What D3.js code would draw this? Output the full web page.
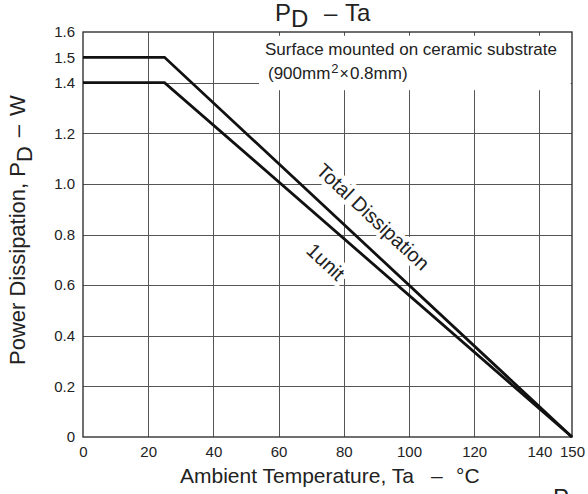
<!DOCTYPE html>
<html><head><meta charset="utf-8">
<script src="https://cdn.jsdelivr.net/npm/d3@7"></script>
<style>
body{margin:0;background:#fff}
text{font-family:"Liberation Sans",Arial,Helvetica,sans-serif;fill:#222}
</style>
</head><body>
<svg id="c" width="588" height="494"></svg>
<script>
// ---- data ----
const xTicks = [0, 20, 40, 60, 80, 100, 120, 140, 150];
const yTicks = [0, 0.2, 0.4, 0.6, 0.8, 1.0, 1.2, 1.4, 1.5, 1.6];
const xGrid = [20, 40, 60, 80, 100, 120, 140];
const yGrid = [0.2, 0.4, 0.6, 0.8, 1.0, 1.2, 1.4];
const temperature = [0, 25, 150];
const totalPD = [1.5, 1.5, 0];
const unitPD = [1.4, 1.4, 0];
const seriesNames = ["Total Dissipation", "1unit"];

// ---- layout ----
const svg = d3.select("#c");
const L = 83, R = 572, T = 32, B = 437;
const x = d3.scaleLinear().domain([0, 150]).range([L, R]);
const y = d3.scaleLinear().domain([0, 1.6]).range([B, T]);

// gridlines
const grid = svg.append("g").attr("stroke", "#555").attr("stroke-width", 1).attr("shape-rendering", "crispEdges");
grid.selectAll(".vx").data(xGrid).join("line")
  .attr("x1", d => Math.round(x(d)) + 0.5).attr("x2", d => Math.round(x(d)) + 0.5)
  .attr("y1", T).attr("y2", B);
grid.selectAll(".hy").data(yGrid).join("line")
  .attr("y1", d => Math.round(y(d)) + 0.5).attr("y2", d => Math.round(y(d)) + 0.5)
  .attr("x1", L).attr("x2", R);

// annotation box (white, covers grid)
svg.append("rect")
  .attr("x", x(54)).attr("y", y(1.585))
  .attr("width", x(149.6) - x(54)).attr("height", y(1.37) - y(1.585))
  .attr("fill", "#fff");

svg.append("text").attr("font-size", 17).attr("x", 265).attr("y", 55)
  .text("Surface mounted on ceramic substrate");
const ann2 = svg.append("text").attr("font-size", 17).attr("x", 268).attr("y", 79);
ann2.append("tspan").text("(900mm");
ann2.append("tspan").attr("font-size", 13).attr("dy", -6).attr("dx", 1).text("2");
ann2.append("tspan").attr("font-size", 16).attr("dy", 6).attr("dx", 1).text("\u00d7");
ann2.append("tspan").attr("dx", 1).text("0.8mm)");

// curve labels with white halo
const ang = Math.atan2(y(0) - y(1.5), x(150) - x(25)) * 180 / Math.PI;
function curveLabel(txt, dx, dy) {
  svg.append("text")
    .attr("transform", `translate(${x(dx)},${y(dy)}) rotate(${ang})`)
    .attr("text-anchor", "middle")
    .attr("font-size", 20)
    .attr("stroke", "#fff").attr("stroke-width", 9).attr("stroke-linejoin", "round")
    .attr("paint-order", "stroke")
    .text(txt);
}
curveLabel(seriesNames[0], 87.5, 0.85);
curveLabel(seriesNames[1], 73.0, 0.672);

// frame
svg.append("rect").attr("x", L).attr("y", T).attr("width", R - L).attr("height", B - T)
  .attr("fill", "none").attr("stroke", "#333").attr("stroke-width", 1.4);

// axes labels
const yAxis = svg.append("g").attr("transform", `translate(${L},0)`)
  .call(d3.axisLeft(y).tickValues(yTicks).tickSize(0).tickPadding(8)
    .tickFormat(d => d === 0 ? "0" : d3.format(".1f")(d)));
yAxis.select(".domain").remove();
yAxis.selectAll("text").attr("font-size", 15).attr("font-family", null).attr("fill", "#222");

const xAxis = svg.append("g").attr("transform", `translate(0,${B})`)
  .call(d3.axisBottom(x).tickValues(xTicks).tickSize(0));
xAxis.select(".domain").remove();
xAxis.selectAll("text").attr("font-size", 15).attr("font-family", null).attr("fill", "#222")
  .attr("y", 20).attr("dy", 0);

// lines
const line = d3.line().x(d => x(d[0])).y(d => y(d[1]));
[totalPD, unitPD].forEach(vals => {
  svg.append("path")
    .datum(temperature.map((t, i) => [t, vals[i]]))
    .attr("d", line)
    .attr("fill", "none").attr("stroke", "#111").attr("stroke-width", 2.8)
    .attr("stroke-linejoin", "miter");
});

// title
const title = svg.append("text").attr("font-size", 24).attr("y", 21);
title.append("tspan").attr("x", 275).text("P");
title.append("tspan").attr("dy", 6).text("D");
title.append("tspan").attr("x", 324).attr("dy", -6).text("\u2013");
title.append("tspan").attr("x", 345).text("Ta");

// x title
const xt = svg.append("text").attr("font-size", 21).attr("y", 483);
xt.append("tspan").attr("x", 180).text("Ambient Temperature, Ta");
xt.append("tspan").attr("x", 431).text("\u2013");
xt.append("tspan").attr("x", 456).text("\u00b0C");

// y title
const yt = svg.append("text").attr("font-size", 22)
  .attr("transform", "translate(25,365) rotate(-90)");
yt.append("tspan").attr("x", 0).attr("y", 0).text("Power Dissipation, P");
yt.append("tspan").attr("dy", 7).text("D");
yt.append("tspan").attr("dy", -7).attr("dx", 9).text("\u2013");
yt.append("tspan").attr("dx", 9).text("W");

// partial next-title glyph at bottom right
svg.append("text").attr("font-size", 24).attr("x", 553).attr("y", 506).text("P");
</script>
</body></html>
